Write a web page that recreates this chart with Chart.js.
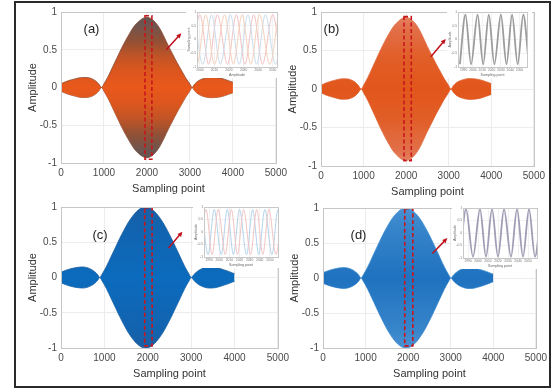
<!DOCTYPE html>
<html>
<head>
<meta charset="utf-8">
<script src="https://cdn.jsdelivr.net/npm/chart.js@4.4.1/dist/chart.umd.min.js"></script>
<style>
  body { margin: 0; background: #fff; }
  #wrap { position: relative; width: 553px; height: 388px; overflow: hidden; background: #fff; }
  #frame { position: absolute; left: 14px; top: 1px; width: 533px; height: 383px; border: 2px solid #2a2a2a; }
  canvas { position: absolute; }
</style>
</head>
<body>
<div id="wrap"><div id="frame"></div></div>
<script>
// upper envelope of the modulated signal (lower half is its mirror), panels (a),(b)
const envX_ab = [0, 100, 200, 300, 400, 500, 600, 700, 800, 880, 945, 1000, 1100, 1200, 1300, 1400, 1500, 1600, 1700, 1800, 1900, 2000,
  2100, 2200, 2300, 2400, 2500, 2600, 2700, 2800, 2900, 3000, 3050, 3110, 3200, 3300, 3400, 3500, 3600, 3700, 3800, 3900, 4000];
const envY_ab = [0.05, 0.075, 0.095, 0.11, 0.125, 0.133, 0.132, 0.12, 0.09, 0.045, 0.0, 0.05, 0.15, 0.27, 0.39, 0.51, 0.62, 0.72, 0.81, 0.87, 0.915, 0.93,
  0.91, 0.86, 0.78, 0.67, 0.55, 0.44, 0.33, 0.23, 0.13, 0.045, 0.0, 0.045, 0.09, 0.115, 0.13, 0.135, 0.132, 0.125, 0.11, 0.09, 0.07];
// panels (c),(d)
const envX_cd = [0, 100, 200, 300, 400, 500, 600, 700, 800, 850, 890, 950, 1050, 1150, 1250, 1350, 1450, 1550, 1650, 1750, 1850, 1950,
  2050, 2150, 2250, 2350, 2450, 2550, 2650, 2750, 2850, 2950, 3005, 3060, 3150, 3250, 3350, 3450, 3550, 3650, 3750, 3850, 3950, 4000];
const envY_cd = [0.075, 0.1, 0.12, 0.135, 0.145, 0.15, 0.14, 0.115, 0.07, 0.035, 0.0, 0.05, 0.16, 0.29, 0.42, 0.55, 0.67, 0.78, 0.87, 0.94, 0.985, 1.0,
  0.985, 0.94, 0.87, 0.78, 0.67, 0.55, 0.42, 0.29, 0.16, 0.05, 0.0, 0.04, 0.09, 0.125, 0.145, 0.15, 0.145, 0.13, 0.11, 0.09, 0.065, 0.055];

const mainXTicks = [0, 1000, 2000, 3000, 4000, 5000];
const mainYTicks = [-1, -0.5, 0, 0.5, 1];

// zoomed views (peaks / troughs of the carrier)
const insetTicksA = [2000, 2010, 2020, 2030, 2040, 2050];
const insetTicksB = [1990, 2000, 2010, 2020, 2030, 2040, 2050];
const insetYTicks = [-1, -0.5, 0, 0.5, 1];

const insetA_pinkX = [1994, 2000, 2006, 2012, 2019, 2025, 2031, 2037, 2043, 2050, 2056];
const insetA_pinkY = [-0.9, 0.9, -0.9, 0.9, -0.9, 0.9, -0.9, 0.9, -0.9, 0.9, -0.9];
const insetA_blueX = [1996, 2002, 2008, 2014, 2021, 2027, 2033, 2039, 2045, 2052, 2058];
const insetA_blueY = [0.9, -0.9, 0.9, -0.9, 0.9, -0.9, 0.9, -0.9, 0.9, -0.9, 0.9];
const insetA_peachX = [1992, 1998, 2004, 2010, 2017, 2023, 2029, 2035, 2041, 2048, 2054];
const insetA_peachY = [0.9, -0.9, 0.9, -0.9, 0.9, -0.9, 0.9, -0.9, 0.9, -0.9, 0.9];

const insetB_X = [1986, 1992, 1998, 2005, 2011, 2017, 2023, 2030, 2036, 2042, 2048, 2054, 2060];
const insetB_Y = [-0.9, 0.9, -0.9, 0.9, -0.9, 0.9, -0.9, 0.9, -0.9, 0.9, -0.9, 0.9, -0.9];

const insetC_blueX = [1983, 1989, 1995, 2002, 2008, 2014, 2020, 2027, 2033, 2039, 2045, 2052, 2058, 2064];
const insetC_blueY = [0.9, -0.9, 0.9, -0.9, 0.9, -0.9, 0.9, -0.9, 0.9, -0.9, 0.9, -0.9, 0.9, -0.9];
const insetC_pinkX = [1981, 1987, 1993, 1999, 2006, 2012, 2018, 2024, 2031, 2037, 2043, 2049, 2056, 2062];
const insetC_pinkY = [-0.9, 0.9, -0.9, 0.9, -0.9, 0.9, -0.9, 0.9, -0.9, 0.9, -0.9, 0.9, -0.9, 0.9];

const insetD_X = [1982, 1988, 1995, 2002, 2008, 2014, 2020, 2026, 2033, 2039, 2045, 2051, 2057, 2063];
const insetD_Y = [-0.95, 0.95, -0.95, 0.95, -0.95, 0.95, -0.95, 0.95, -0.95, 0.95, -0.95, 0.95, -0.95, 0.95];

Chart.defaults.font.family = "'Liberation Sans', Arial, Helvetica, sans-serif";
Chart.defaults.animation = false;
Chart.defaults.plugins.legend.display = false;
Chart.defaults.plugins.tooltip.enabled = false;

const wrap = document.getElementById('wrap');

function placeCanvas(area, yw, xh, pad) {
  const [l, t, r, b] = area;
  const c = document.createElement('canvas');
  const w = pad.left + yw + (r - l) + pad.right;
  const h = pad.top + (b - t) + xh + pad.bottom;
  c.width = w; c.height = h;
  c.style.left = (l - yw - pad.left) + 'px';
  c.style.top = (t - pad.top) + 'px';
  c.style.width = w + 'px'; c.style.height = h + 'px';
  wrap.appendChild(c);
  return c;
}

const pts = (xs, ys, sign = 1) => xs.map((x, i) => ({ x: x, y: sign * ys[i] }));

// axes box, optional white background
const boxPlugin = {
  id: 'box',
  beforeDraw(chart, args, o) {
    if (!o.background) return;
    const ctx = chart.ctx;
    ctx.save(); ctx.fillStyle = o.background; ctx.fillRect(0, 0, chart.width, chart.height); ctx.restore();
  },
  afterDraw(chart, args, o) {
    const { ctx, chartArea: a } = chart;
    ctx.save();
    ctx.strokeStyle = o.color || '#c4c4c4'; ctx.lineWidth = 1;
    ctx.strokeRect(Math.round(a.left) + 0.5, Math.round(a.top) + 0.5, Math.round(a.right - a.left), Math.round(a.bottom - a.top));
    ctx.restore();
  }
};

// dashed zoom window, arrow and panel letter
const marksPlugin = {
  id: 'marks',
  afterDatasetsDraw(chart, args, o) {
    if (!o.zoomBox) return;
    const { ctx, chartArea, scales: { x, y } } = chart;
    ctx.save();
    const [x0, x1, y0, y1] = o.zoomBox;
    const px0 = x.getPixelForValue(x0), px1 = x.getPixelForValue(x1);
    const py0 = y.getPixelForValue(y0), py1 = y.getPixelForValue(y1);
    ctx.strokeStyle = '#c8161d'; ctx.lineWidth = 1.6; ctx.setLineDash([4, 2.5]);
    ctx.strokeRect(px0, py0, px1 - px0, py1 - py0);

    const [ax0v, ay0v, ax1v, ay1v] = o.arrow;
    const ax0 = x.getPixelForValue(ax0v), ay0 = y.getPixelForValue(ay0v);
    const ax1 = x.getPixelForValue(ax1v), ay1 = y.getPixelForValue(ay1v);
    const ang = Math.atan2(ay1 - ay0, ax1 - ax0), hl = 5.5;
    ctx.setLineDash([]);
    ctx.strokeStyle = ctx.fillStyle = '#c0121c'; ctx.lineWidth = 1.5;
    ctx.beginPath(); ctx.moveTo(ax0, ay0);
    ctx.lineTo(ax1 - hl * 0.7 * Math.cos(ang), ay1 - hl * 0.7 * Math.sin(ang)); ctx.stroke();
    ctx.beginPath(); ctx.moveTo(ax1, ay1);
    ctx.lineTo(ax1 - hl * Math.cos(ang - 0.45), ay1 - hl * Math.sin(ang - 0.45));
    ctx.lineTo(ax1 - hl * Math.cos(ang + 0.45), ay1 - hl * Math.sin(ang + 0.45));
    ctx.closePath(); ctx.fill();

    ctx.fillStyle = '#222'; ctx.font = "13px 'Liberation Sans', Arial, sans-serif";
    ctx.textAlign = 'center'; ctx.textBaseline = 'middle';
    ctx.fillText(o.letter, chartArea.left + o.letterAt[0], chartArea.top + o.letterAt[1]);
    ctx.restore();
  }
};

function gradientFill(stops) {
  return (c) => {
    const chart = c.chart;
    if (!chart.chartArea) return stops[0][1];
    const y = chart.scales.y;
    const g = chart.ctx.createLinearGradient(0, y.getPixelForValue(1), 0, y.getPixelForValue(-1));
    stops.forEach(([p, col]) => g.addColorStop(p, col));
    return g;
  };
}

function axis(opts) {
  return {
    type: 'linear', min: opts.min, max: opts.max,
    afterBuildTicks: s => { s.ticks = opts.ticks.map(v => ({ value: v })); },
    afterFit: s => { if (opts.horizontal) s.height = opts.size; else s.width = opts.size; },
    grid: { color: opts.grid, drawTicks: false, lineWidth: 1 },
    border: { display: false },
    ticks: { padding: opts.pad, color: opts.tickColor, font: { size: opts.font }, maxRotation: 0, autoSkip: false, callback: v => String(v) },
    title: { display: true, text: opts.title, color: opts.titleColor, font: { size: opts.titleFont }, padding: opts.titlePad }
  };
}

function mainPanel(p) {
  const pad = { left: 0, top: 8, right: 14, bottom: 0 };
  const canvas = placeCanvas(p.area, 38, 34, pad);
  new Chart(canvas, {
    type: 'line',
    data: {
      datasets: [
        { data: pts(p.envX, p.envY), fill: '+1', backgroundColor: gradientFill(p.stops), borderColor: p.edge, borderWidth: 0.8,
          pointRadius: 0, cubicInterpolationMode: 'monotone' },
        { data: pts(p.envX, p.envY, -1), fill: false, borderColor: p.edge, borderWidth: 0.8,
          pointRadius: 0, cubicInterpolationMode: 'monotone' }
      ]
    },
    options: {
      responsive: false, devicePixelRatio: 1,
      layout: { padding: pad },
      scales: {
        x: axis({ min: 0, max: 5000, ticks: mainXTicks, horizontal: true, size: 34, grid: '#ececec', pad: 4, tickColor: '#4a4a4a', font: 10,
          title: 'Sampling point', titleColor: '#333', titleFont: 11, titlePad: { top: 0, bottom: 1 } }),
        y: axis({ min: -1, max: 1, ticks: mainYTicks, horizontal: false, size: 38, grid: '#ececec', pad: 4, tickColor: '#4a4a4a', font: 10,
          title: 'Amplitude', titleColor: '#333', titleFont: 11, titlePad: { top: 3, bottom: 0 } })
      },
      plugins: {
        box: { color: '#c6c6c6' },
        marks: { zoomBox: p.zoomBox, arrow: p.arrow, letter: p.letter, letterAt: p.letterAt }
      }
    },
    plugins: [boxPlugin, marksPlugin]
  });
}

function insetPanel(p) {
  const pad = { left: 0, top: 3, right: 5, bottom: 0 };
  const canvas = placeCanvas(p.area, 11, 11, pad);
  new Chart(canvas, {
    type: 'line',
    data: {
      datasets: p.waves.map(w => ({ data: pts(w.x, w.y), borderColor: w.color, borderWidth: w.width, fill: false,
        pointRadius: 0, cubicInterpolationMode: 'monotone' }))
    },
    options: {
      responsive: false, devicePixelRatio: 1,
      layout: { padding: pad },
      scales: {
        x: axis({ min: p.xMin, max: p.xMax, ticks: p.xTicks, horizontal: true, size: 11, grid: '#f1f1f1', pad: 1, tickColor: '#777', font: 3.3,
          title: p.xTitle, titleColor: '#666', titleFont: 3.6, titlePad: { top: 0, bottom: 0.5 } }),
        y: axis({ min: -1, max: 1, ticks: insetYTicks, horizontal: false, size: 11, grid: '#f1f1f1', pad: 1, tickColor: '#777', font: 3.3,
          title: p.yTitle, titleColor: '#666', titleFont: 3.6, titlePad: { top: 0.5, bottom: 0 } })
      },
      plugins: { box: { color: '#c8c8c8', background: '#ffffff' } }
    },
    plugins: [boxPlugin]
  });
}

const orangeDark = [[0, '#5e5352'], [0.08, '#6c5550'], [0.19, '#915036'], [0.29, '#bf5427'], [0.39, '#dc561e'], [0.5, '#e9581b'],
  [0.61, '#dc561e'], [0.71, '#bf5427'], [0.81, '#915036'], [0.92, '#6c5550'], [1, '#5e5352']];
const orangeLight = [[0, '#e48a6c'], [0.1, '#e2704a'], [0.3, '#e15e28'], [0.5, '#e2561b'],
  [0.7, '#e15e28'], [0.9, '#e2704a'], [1, '#e48a6c']];
const blueDeep = [[0, '#1b5ea3'], [0.12, '#1363ae'], [0.5, '#0b6bbd'], [0.88, '#1363ae'], [1, '#1b5ea3']];
const blueLight = [[0, '#4a92d2'], [0.12, '#3886cb'], [0.5, '#1f72bf'], [0.88, '#3886cb'], [1, '#4a92d2']];

mainPanel({ area: [61, 10, 277, 163], envX: envX_ab, envY: envY_ab, stops: orangeDark, edge: '#8a4a33',
  zoomBox: [1955, 2115, 0.95, -0.95], arrow: [2450, 0.5, 2800, 0.72], letter: '(a)', letterAt: [30.5, 17] });
mainPanel({ area: [321, 10, 535, 166], envX: envX_ab, envY: envY_ab, stops: orangeLight, edge: '#df6a3e',
  zoomBox: [1950, 2120, 0.94, -0.93], arrow: [2580, 0.42, 2930, 0.65], letter: '(b)', letterAt: [10.5, 17] });
mainPanel({ area: [61, 205, 279, 348], envX: envX_cd, envY: envY_cd, stops: blueDeep, edge: '#1a5c9e',
  zoomBox: [1930, 2100, 0.99, -0.97], arrow: [2480, 0.42, 2800, 0.65], letter: '(c)', letterAt: [39, 28] });
mainPanel({ area: [323, 206, 537, 348], envX: envX_cd, envY: envY_cd, stops: blueLight, edge: '#4a93d2',
  zoomBox: [1920, 2110, 0.99, -0.97], arrow: [2570, 0.35, 2920, 0.57], letter: '(d)', letterAt: [35.5, 27] });

insetPanel({ area: [197, 12, 277, 67], xMin: 1998, xMax: 2053, xTicks: insetTicksA, xTitle: 'Amplitude', yTitle: 'Sampling point',
  waves: [
    { x: insetA_peachX, y: insetA_peachY, color: '#f4d2bc', width: 1 },
    { x: insetA_blueX, y: insetA_blueY, color: '#c9dcee', width: 1 },
    { x: insetA_pinkX, y: insetA_pinkY, color: '#f2c2c4', width: 1 }
  ] });
insetPanel({ area: [458, 12, 527, 67], xMin: 1984, xMax: 2058, xTicks: insetTicksB, xTitle: 'Sampling point', yTitle: 'Amplitude',
  waves: [{ x: insetB_X, y: insetB_Y, color: '#9c9c9c', width: 1.8 }] });
insetPanel({ area: [204, 207, 278, 257], xMin: 1985, xMax: 2058, xTicks: insetTicksB, xTitle: 'Sampling point', yTitle: 'Amplitude',
  waves: [
    { x: insetC_pinkX, y: insetC_pinkY, color: '#f2c4c4', width: 1 },
    { x: insetC_blueX, y: insetC_blueY, color: '#b3d3ec', width: 1 }
  ] });
insetPanel({ area: [463, 208, 537, 258], xMin: 1985, xMax: 2059, xTicks: insetTicksB, xTitle: 'Sampling point', yTitle: 'Amplitude',
  waves: [{ x: insetD_X, y: insetD_Y, color: '#a09cb4', width: 1.8 }] });
</script>
</body>
</html>
